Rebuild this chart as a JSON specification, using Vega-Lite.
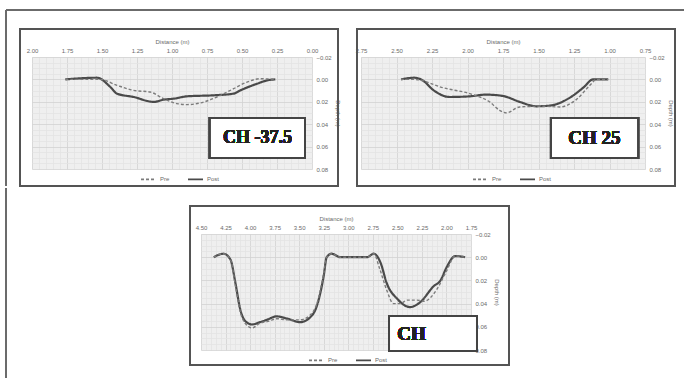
{
  "$schema": "https://vega.github.io/schema/vega-lite/v6.json",
  "background": "white",
  "padding": {"left": 5, "top": 9, "right": 0, "bottom": 0},
  "spacing": 0,
  "resolve": {"scale": {"x": "independent", "y": "independent", "color": "independent", "strokeDash": "independent"}, "legend": {"color": "independent", "strokeDash": "independent"}},
  "vconcat": [
    {
      "bounds": "flush",
      "spacing": 49,
      "resolve": {"scale": {"x": "independent", "y": "independent", "color": "independent", "strokeDash": "independent"}, "legend": {"color": "independent", "strokeDash": "independent"}},
      "hconcat": [
        {
          "width": 280,
          "height": 112,
          "data": {"values": [
            {"d": 1.762, "depth": 0.0, "series": "Post"},
            {"d": 1.536, "depth": -0.0015, "series": "Post"},
            {"d": 1.44, "depth": 0.0068, "series": "Post"},
            {"d": 1.393, "depth": 0.0127, "series": "Post"},
            {"d": 1.274, "depth": 0.0157, "series": "Post"},
            {"d": 1.131, "depth": 0.0201, "series": "Post"},
            {"d": 1.06, "depth": 0.0181, "series": "Post"},
            {"d": 0.988, "depth": 0.0172, "series": "Post"},
            {"d": 0.893, "depth": 0.0151, "series": "Post"},
            {"d": 0.702, "depth": 0.0142, "series": "Post"},
            {"d": 0.56, "depth": 0.0127, "series": "Post"},
            {"d": 0.512, "depth": 0.0098, "series": "Post"},
            {"d": 0.393, "depth": 0.0039, "series": "Post"},
            {"d": 0.321, "depth": 0.0009, "series": "Post"},
            {"d": 0.262, "depth": 0.0, "series": "Post"},
            {"d": 1.762, "depth": 0.0, "series": "Pre"},
            {"d": 1.512, "depth": 0.0, "series": "Pre"},
            {"d": 1.393, "depth": 0.0053, "series": "Pre"},
            {"d": 1.274, "depth": 0.0098, "series": "Pre"},
            {"d": 1.155, "depth": 0.0113, "series": "Pre"},
            {"d": 1.06, "depth": 0.0172, "series": "Pre"},
            {"d": 0.964, "depth": 0.0216, "series": "Pre"},
            {"d": 0.893, "depth": 0.0225, "series": "Pre"},
            {"d": 0.798, "depth": 0.021, "series": "Pre"},
            {"d": 0.679, "depth": 0.0157, "series": "Pre"},
            {"d": 0.56, "depth": 0.0083, "series": "Pre"},
            {"d": 0.464, "depth": 0.0024, "series": "Pre"},
            {"d": 0.369, "depth": -0.0006, "series": "Pre"},
            {"d": 0.262, "depth": 0.0, "series": "Pre"}
          ]},
          "encoding": {
            "x": {"field": "d", "type": "quantitative", "scale": {"domain": [0, 2], "reverse": true, "nice": false, "zero": false},
              "axis": {"orient": "top", "title": "Distance (m)", "values": [0,0.05,0.1,0.15,0.2,0.25,0.3,0.35,0.4,0.45,0.5,0.55,0.6,0.65,0.7,0.75,0.8,0.85,0.9,0.95,1,1.05,1.1,1.15,1.2,1.25,1.3,1.35,1.4,1.45,1.5,1.55,1.6,1.65,1.7,1.75,1.8,1.85,1.9,1.95,2],
                "labelExpr": "abs(datum.value*4 - round(datum.value*4)) < 0.01 ? format(datum.value, '.2f') : ''",
                "gridColor": {"condition": {"test": "abs(datum.value*4 - round(datum.value*4)) < 0.01", "value": "#d2d2d2"}, "value": "#e3e3e3"}}},
            "y": {"field": "depth", "type": "quantitative", "scale": {"domain": [-0.02, 0.08], "reverse": true, "nice": false, "zero": false},
              "axis": {"orient": "right", "title": "Depth (m)", "values": [-0.02,-0.015,-0.01,-0.005,0,0.005,0.01,0.015,0.02,0.025,0.03,0.035,0.04,0.045,0.05,0.055,0.06,0.065,0.07,0.075,0.08],
                "labelExpr": "abs(datum.value*50 - round(datum.value*50)) < 0.01 ? format(datum.value, '.2f') : ''",
                "gridColor": {"condition": {"test": "abs(datum.value*50 - round(datum.value*50)) < 0.01", "value": "#d2d2d2"}, "value": "#e3e3e3"}}}
          },
          "layer": [
            {"mark": {"type": "line", "interpolate": "monotone"},
              "encoding": {
                "color": {"field": "series", "type": "nominal", "scale": {"domain": ["Pre", "Post"], "range": ["#7c7c7c", "#4a4a4a"]}, "legend": {"title": null, "orient": "none", "legendX": 108, "legendY": 113.5}},
                "strokeDash": {"field": "series", "type": "nominal", "scale": {"domain": ["Pre", "Post"], "range": [[3, 2], [1, 0]]}, "legend": {"title": null, "orient": "none", "legendX": 108, "legendY": 113.5}},
                "strokeWidth": {"condition": {"test": "datum.series === 'Post'", "value": 2.2}, "value": 1.4}
              }},
            {"mark": {"type": "rect", "fill": "white", "stroke": "#444444", "strokeWidth": 2},
              "encoding": {"x": {"datum": 0.729}, "x2": {"datum": 0.05}, "y": {"datum": 0.0345}, "y2": {"datum": 0.0702}}},
            {"mark": {"type": "text", "text": "CH -37.5", "font": "Liberation Serif", "fontWeight": "bold", "fontSize": 18, "color": "#222222", "align": "center", "baseline": "middle"},
              "encoding": {"x": {"datum": 0.39}, "y": {"datum": 0.0525}}},
            {"mark": {"type": "rect", "fillOpacity": 0, "fill": "white", "stroke": "#555555", "strokeWidth": 1.2},
              "encoding": {"x": {"datum": 2.0857}, "x2": {"datum": -0.1857}, "y": {"datum": -0.045}, "y2": {"datum": 0.0952}}},
            {"mark": {"type": "rule", "color": "#6b6b6b", "strokeWidth": 1.5},
              "encoding": {"x": {"datum": 2.1857}, "x2": {"datum": -2.6571}, "y": {"datum": -0.062}}},
            {"mark": {"type": "rule", "color": "#6b6b6b", "strokeWidth": 1.5},
              "encoding": {"x": {"datum": 2.1857}, "y": {"datum": -0.062}, "y2": {"datum": 0.0952}}}
          ]
        },
        {
          "width": 284,
          "height": 112,
          "data": {"values": [
            {"d": 2.468, "depth": 0.0, "series": "Post"},
            {"d": 2.374, "depth": -0.0015, "series": "Post"},
            {"d": 2.315, "depth": 0.0009, "series": "Post"},
            {"d": 2.244, "depth": 0.0092, "series": "Post"},
            {"d": 2.126, "depth": 0.0157, "series": "Post"},
            {"d": 1.985, "depth": 0.0151, "series": "Post"},
            {"d": 1.868, "depth": 0.0136, "series": "Post"},
            {"d": 1.75, "depth": 0.0148, "series": "Post"},
            {"d": 1.632, "depth": 0.0201, "series": "Post"},
            {"d": 1.515, "depth": 0.024, "series": "Post"},
            {"d": 1.421, "depth": 0.0234, "series": "Post"},
            {"d": 1.279, "depth": 0.0163, "series": "Post"},
            {"d": 1.185, "depth": 0.0074, "series": "Post"},
            {"d": 1.115, "depth": 0.0, "series": "Post"},
            {"d": 1.009, "depth": 0.0, "series": "Post"},
            {"d": 2.468, "depth": 0.0, "series": "Pre"},
            {"d": 2.374, "depth": 0.0, "series": "Pre"},
            {"d": 2.174, "depth": 0.0074, "series": "Pre"},
            {"d": 1.962, "depth": 0.0136, "series": "Pre"},
            {"d": 1.844, "depth": 0.0201, "series": "Pre"},
            {"d": 1.774, "depth": 0.0276, "series": "Pre"},
            {"d": 1.726, "depth": 0.0299, "series": "Pre"},
            {"d": 1.632, "depth": 0.0246, "series": "Pre"},
            {"d": 1.468, "depth": 0.024, "series": "Pre"},
            {"d": 1.35, "depth": 0.0246, "series": "Pre"},
            {"d": 1.232, "depth": 0.0178, "series": "Pre"},
            {"d": 1.138, "depth": 0.0053, "series": "Pre"},
            {"d": 1.091, "depth": 0.0, "series": "Pre"},
            {"d": 1.009, "depth": 0.0, "series": "Pre"}
          ]},
          "encoding": {
            "x": {"field": "d", "type": "quantitative", "scale": {"domain": [0.75, 2.75], "reverse": true, "nice": false, "zero": false},
              "axis": {"orient": "top", "title": "Distance (m)", "values": [0.75,0.8,0.85,0.9,0.95,1,1.05,1.1,1.15,1.2,1.25,1.3,1.35,1.4,1.45,1.5,1.55,1.6,1.65,1.7,1.75,1.8,1.85,1.9,1.95,2,2.05,2.1,2.15,2.2,2.25,2.3,2.35,2.4,2.45,2.5,2.55,2.6,2.65,2.7,2.75],
                "labelExpr": "abs(datum.value*4 - round(datum.value*4)) < 0.01 ? format(datum.value, '.2f') : ''",
                "gridColor": {"condition": {"test": "abs(datum.value*4 - round(datum.value*4)) < 0.01", "value": "#d2d2d2"}, "value": "#e3e3e3"}}},
            "y": {"field": "depth", "type": "quantitative", "scale": {"domain": [-0.02, 0.08], "reverse": true, "nice": false, "zero": false},
              "axis": {"orient": "right", "title": "Depth (m)", "values": [-0.02,-0.015,-0.01,-0.005,0,0.005,0.01,0.015,0.02,0.025,0.03,0.035,0.04,0.045,0.05,0.055,0.06,0.065,0.07,0.075,0.08],
                "labelExpr": "abs(datum.value*50 - round(datum.value*50)) < 0.01 ? format(datum.value, '.2f') : ''",
                "gridColor": {"condition": {"test": "abs(datum.value*50 - round(datum.value*50)) < 0.01", "value": "#d2d2d2"}, "value": "#e3e3e3"}}}
          },
          "layer": [
            {"mark": {"type": "line", "interpolate": "monotone"},
              "encoding": {
                "color": {"field": "series", "type": "nominal", "scale": {"domain": ["Pre", "Post"], "range": ["#7c7c7c", "#4a4a4a"]}, "legend": {"title": null, "orient": "none", "legendX": 111, "legendY": 113.5}},
                "strokeDash": {"field": "series", "type": "nominal", "scale": {"domain": ["Pre", "Post"], "range": [[3, 2], [1, 0]]}, "legend": {"title": null, "orient": "none", "legendX": 111, "legendY": 113.5}},
                "strokeWidth": {"condition": {"test": "datum.series === 'Post'", "value": 2.2}, "value": 1.4}
              }},
            {"mark": {"type": "rect", "fill": "white", "stroke": "#444444", "strokeWidth": 2},
              "encoding": {"x": {"datum": 1.412}, "x2": {"datum": 0.799}, "y": {"datum": 0.0345}, "y2": {"datum": 0.0702}}},
            {"mark": {"type": "text", "text": "CH 25", "font": "Liberation Serif", "fontWeight": "bold", "fontSize": 19, "color": "#222222", "align": "center", "baseline": "middle"},
              "encoding": {"x": {"datum": 1.106}, "y": {"datum": 0.0525}}},
            {"mark": {"type": "rect", "fillOpacity": 0, "fill": "white", "stroke": "#555555", "strokeWidth": 1.2},
              "encoding": {"x": {"datum": 2.778}, "x2": {"datum": 0.539}, "y": {"datum": -0.045}, "y2": {"datum": 0.0952}}}
          ]
        }
      ]
    },
    {
      "bounds": "flush",
      "spacing": 49,
      "resolve": {"scale": {"x": "independent", "y": "independent", "color": "independent", "strokeDash": "independent"}, "legend": {"color": "independent", "strokeDash": "independent"}},
      "hconcat": [
        {
          "width": 120,
          "height": 20,
          "view": {"fill": null, "stroke": null},
          "data": {"values": [{"v": 1}]},
          "mark": {"type": "point", "opacity": 0}
        },
        {
          "width": 270,
          "height": 116,
          "data": {"values": [
            {"d": 4.37, "depth": 0.0, "series": "Post"},
            {"d": 4.27, "depth": -0.003, "series": "Post"},
            {"d": 4.2, "depth": 0.002, "series": "Post"},
            {"d": 4.15, "depth": 0.022, "series": "Post"},
            {"d": 4.1, "depth": 0.045, "series": "Post"},
            {"d": 4.05, "depth": 0.055, "series": "Post"},
            {"d": 3.98, "depth": 0.058, "series": "Post"},
            {"d": 3.9, "depth": 0.056, "series": "Post"},
            {"d": 3.83, "depth": 0.054, "series": "Post"},
            {"d": 3.73, "depth": 0.051, "series": "Post"},
            {"d": 3.62, "depth": 0.053, "series": "Post"},
            {"d": 3.49, "depth": 0.056, "series": "Post"},
            {"d": 3.39, "depth": 0.052, "series": "Post"},
            {"d": 3.32, "depth": 0.042, "series": "Post"},
            {"d": 3.25, "depth": 0.016, "series": "Post"},
            {"d": 3.22, "depth": 0.0, "series": "Post"},
            {"d": 3.17, "depth": -0.003, "series": "Post"},
            {"d": 3.08, "depth": 0.0, "series": "Post"},
            {"d": 2.81, "depth": 0.0, "series": "Post"},
            {"d": 2.74, "depth": -0.003, "series": "Post"},
            {"d": 2.67, "depth": 0.005, "series": "Post"},
            {"d": 2.61, "depth": 0.022, "series": "Post"},
            {"d": 2.5, "depth": 0.036, "series": "Post"},
            {"d": 2.37, "depth": 0.043, "series": "Post"},
            {"d": 2.27, "depth": 0.039, "series": "Post"},
            {"d": 2.13, "depth": 0.025, "series": "Post"},
            {"d": 2.06, "depth": 0.02, "series": "Post"},
            {"d": 2.0, "depth": 0.009, "series": "Post"},
            {"d": 1.91, "depth": -0.001, "series": "Post"},
            {"d": 1.81, "depth": 0.0, "series": "Post"},
            {"d": 4.37, "depth": 0.0, "series": "Pre"},
            {"d": 4.27, "depth": -0.003, "series": "Pre"},
            {"d": 4.2, "depth": 0.002, "series": "Pre"},
            {"d": 4.15, "depth": 0.024, "series": "Pre"},
            {"d": 4.1, "depth": 0.047, "series": "Pre"},
            {"d": 4.05, "depth": 0.057, "series": "Pre"},
            {"d": 3.98, "depth": 0.061, "series": "Pre"},
            {"d": 3.9, "depth": 0.057, "series": "Pre"},
            {"d": 3.8, "depth": 0.055, "series": "Pre"},
            {"d": 3.73, "depth": 0.053, "series": "Pre"},
            {"d": 3.62, "depth": 0.054, "series": "Pre"},
            {"d": 3.49, "depth": 0.054, "series": "Pre"},
            {"d": 3.39, "depth": 0.05, "series": "Pre"},
            {"d": 3.32, "depth": 0.04, "series": "Pre"},
            {"d": 3.25, "depth": 0.014, "series": "Pre"},
            {"d": 3.22, "depth": 0.0, "series": "Pre"},
            {"d": 3.17, "depth": -0.003, "series": "Pre"},
            {"d": 3.08, "depth": 0.0, "series": "Pre"},
            {"d": 2.81, "depth": 0.0, "series": "Pre"},
            {"d": 2.74, "depth": -0.003, "series": "Pre"},
            {"d": 2.68, "depth": 0.01, "series": "Pre"},
            {"d": 2.61, "depth": 0.028, "series": "Pre"},
            {"d": 2.54, "depth": 0.04, "series": "Pre"},
            {"d": 2.47, "depth": 0.04, "series": "Pre"},
            {"d": 2.4, "depth": 0.037, "series": "Pre"},
            {"d": 2.3, "depth": 0.037, "series": "Pre"},
            {"d": 2.23, "depth": 0.038, "series": "Pre"},
            {"d": 2.1, "depth": 0.028, "series": "Pre"},
            {"d": 2.0, "depth": 0.012, "series": "Pre"},
            {"d": 1.91, "depth": -0.001, "series": "Pre"},
            {"d": 1.81, "depth": 0.0, "series": "Pre"}
          ]},
          "encoding": {
            "x": {"field": "d", "type": "quantitative", "scale": {"domain": [1.75, 4.5], "reverse": true, "nice": false, "zero": false},
              "axis": {"orient": "top", "title": "Distance (m)", "values": [1.75,1.8,1.85,1.9,1.95,2,2.05,2.1,2.15,2.2,2.25,2.3,2.35,2.4,2.45,2.5,2.55,2.6,2.65,2.7,2.75,2.8,2.85,2.9,2.95,3,3.05,3.1,3.15,3.2,3.25,3.3,3.35,3.4,3.45,3.5,3.55,3.6,3.65,3.7,3.75,3.8,3.85,3.9,3.95,4,4.05,4.1,4.15,4.2,4.25,4.3,4.35,4.4,4.45,4.5],
                "labelExpr": "abs(datum.value*4 - round(datum.value*4)) < 0.01 ? format(datum.value, '.2f') : ''",
                "gridColor": {"condition": {"test": "abs(datum.value*4 - round(datum.value*4)) < 0.01", "value": "#d2d2d2"}, "value": "#e3e3e3"}}},
            "y": {"field": "depth", "type": "quantitative", "scale": {"domain": [-0.02, 0.08], "reverse": true, "nice": false, "zero": false},
              "axis": {"orient": "right", "title": "Depth (m)", "values": [-0.02,-0.015,-0.01,-0.005,0,0.005,0.01,0.015,0.02,0.025,0.03,0.035,0.04,0.045,0.05,0.055,0.06,0.065,0.07,0.075,0.08],
                "labelExpr": "abs(datum.value*50 - round(datum.value*50)) < 0.01 ? format(datum.value, '.2f') : ''",
                "gridColor": {"condition": {"test": "abs(datum.value*50 - round(datum.value*50)) < 0.01", "value": "#d2d2d2"}, "value": "#e3e3e3"}}}
          },
          "layer": [
            {"mark": {"type": "line", "interpolate": "monotone"},
              "encoding": {
                "color": {"field": "series", "type": "nominal", "scale": {"domain": ["Pre", "Post"], "range": ["#7c7c7c", "#4a4a4a"]}, "legend": {"title": null, "orient": "none", "legendX": 107, "legendY": 117.5}},
                "strokeDash": {"field": "series", "type": "nominal", "scale": {"domain": ["Pre", "Post"], "range": [[3, 2], [1, 0]]}, "legend": {"title": null, "orient": "none", "legendX": 107, "legendY": 117.5}},
                "strokeWidth": {"condition": {"test": "datum.series === 'Post'", "value": 2.2}, "value": 1.4}
              }},
            {"mark": {"type": "rect", "fill": "white", "stroke": "#444444", "strokeWidth": 2},
              "encoding": {"x": {"datum": 2.585}, "x2": {"datum": 1.689}, "y": {"datum": 0.0507}, "y2": {"datum": 0.0809}}},
            {"mark": {"type": "text", "text": "CH", "font": "Liberation Serif", "fontWeight": "bold", "fontSize": 19, "color": "#222222", "align": "left", "baseline": "middle"},
              "encoding": {"x": {"datum": 2.5}, "y": {"datum": 0.0662}}},
            {"mark": {"type": "rect", "fillOpacity": 0, "fill": "white", "stroke": "#555555", "strokeWidth": 1.2},
              "encoding": {"x": {"datum": 4.612}, "x2": {"datum": 1.363}, "y": {"datum": -0.0441}, "y2": {"datum": 0.0929}}},
            {"mark": {"type": "rule", "color": "#6b6b6b", "strokeWidth": 1.5},
              "encoding": {"x": {"datum": 6.486}, "y": {"datum": -0.0592}, "y2": {"datum": 0.1041}}}
          ]
        }
      ]
    }
  ],
  "config": {
    "font": "Liberation Sans",
    "view": {"fill": "#efefef", "stroke": null},
    "axis": {"labelFontSize": 6, "titleFontSize": 6, "labelColor": "#6a6a6a", "titleColor": "#6a6a6a", "titleFontWeight": "normal", "ticks": false, "domain": false, "labelOverlap": false, "labelFlush": false, "labelPadding": 4, "titlePadding": 3, "grid": true, "gridWidth": 0.8},
    "legend": {"labelFontSize": 6, "labelColor": "#6a6a6a", "symbolType": "stroke", "symbolSize": 225, "symbolStrokeWidth": 1.8, "padding": 0, "columnPadding": 14, "labelOffset": 3, "direction": "horizontal"}
  }
}
